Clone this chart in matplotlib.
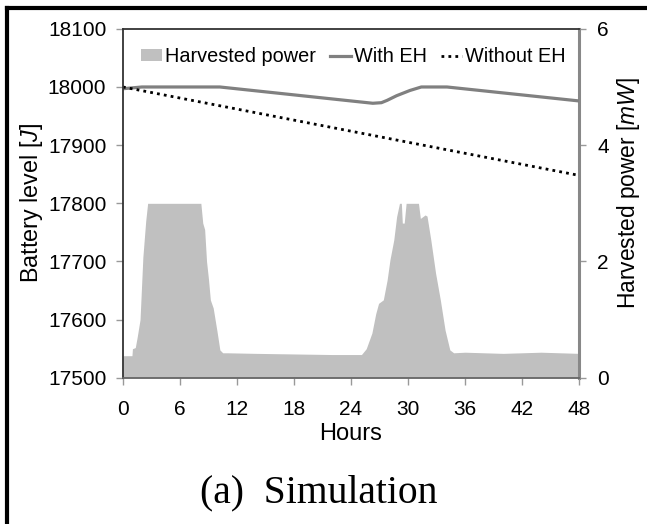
import matplotlib
matplotlib.use("Agg")
import matplotlib.pyplot as plt
from matplotlib.patches import Patch
from matplotlib.lines import Line2D

plt.rcParams['font.family'] = ['Liberation Sans', 'DejaVu Sans']
plt.rcParams['mathtext.fontset'] = 'custom'
plt.rcParams['mathtext.rm'] = 'Liberation Sans'
plt.rcParams['mathtext.it'] = 'Liberation Sans:italic'

# Harvested power (mW)
hours_p = [0, 0.95, 1.0, 1.3, 1.5, 1.8, 2.1, 2.4, 2.6, 8.2, 8.4, 8.6, 8.8, 9.0, 9.2, 9.5, 9.9, 10.2, 10.5,
           11, 14, 18, 22, 25.1, 25.6, 26.2, 26.6, 26.9, 27.4, 27.8, 28.1, 28.5, 28.8, 29.1, 29.3, 29.4,
           29.6, 29.8, 31.1, 31.3, 31.8, 32.0, 32.4, 32.9, 33.4, 33.9, 34.4, 34.8, 36, 40, 44, 48]
power = [0.38, 0.38, 0.5, 0.52, 0.7, 1.0, 2.08, 2.7, 3.0, 3.0, 2.66, 2.55, 2.0, 1.7, 1.34, 1.2, 0.8, 0.48, 0.43,
         0.43, 0.42, 0.41, 0.40, 0.40, 0.5, 0.77, 1.1, 1.28, 1.34, 1.68, 2.03, 2.37, 2.77, 3.0, 3.0, 2.66,
         2.66, 3.0, 3.0, 2.74, 2.8, 2.78, 2.37, 1.8, 1.34, 0.82, 0.48, 0.43, 0.44, 0.42, 0.44, 0.42]

# Battery level with energy harvesting (J)
hours_eh = [0, 2, 10.2, 26.3, 27.2, 27.8, 28.8, 30.2, 31.4, 34.1, 48]
battery_eh = [17997, 18000, 18000, 17972, 17973, 17977, 17985, 17994, 18000, 18000, 17976]

# Battery level without energy harvesting (J)
hours_noeh = [0, 48]
battery_noeh = [18000, 17848]

xticks = [0, 6, 12, 18, 24, 30, 36, 42, 48]
yticks_left = [17500, 17600, 17700, 17800, 17900, 18000, 18100]
yticks_right = [0, 2, 4, 6]

fig = plt.figure(figsize=(6.47, 5.24), dpi=100)
ax = fig.add_axes([0.190, 0.279, 0.705, 0.666])
ax2 = ax.twinx()

ax2.fill_between(hours_p, power, 0, color='#c0c0c0', linewidth=0, zorder=1)
ax2.set_ylim(0, 6)
ax2.set_yticks(yticks_right)

ax.set_zorder(ax2.get_zorder() + 1)
ax.patch.set_visible(False)

dot_style = (0, (1, 1.5))
ax.plot(hours_eh, battery_eh, color='#808080', lw=2.3, solid_capstyle='butt')
ax.plot(hours_noeh, battery_noeh, color='black', lw=2.0, linestyle=dot_style)

ax.set_xlim(0, 48)
ax.set_ylim(17500, 18100)
ax.set_xticks(xticks)
ax.set_yticks(yticks_left)

for a in (ax, ax2):
    a.tick_params(labelsize=15, direction='out', length=5, width=1, color='#999999')
ax.tick_params(axis='x', pad=11)
ax.tick_params(axis='y', pad=7)
ax2.tick_params(axis='y', pad=8)

for s in ('top', 'left'):
    ax.spines[s].set_color('#333333'); ax.spines[s].set_linewidth(1.3)
ax.spines['bottom'].set_color('#666666'); ax.spines['bottom'].set_linewidth(1.3)
ax.spines['right'].set_visible(False)
for s in ('top', 'left', 'bottom'):
    ax2.spines[s].set_visible(False)
ax2.spines['right'].set_color('#888888'); ax2.spines['right'].set_linewidth(2.2)

ax.set_xlabel('Hours', fontsize=17, labelpad=3)
ax.set_ylabel('Battery level [$\\mathit{J}$]', fontsize=16.8)
ax.yaxis.set_label_coords(-0.17, 0.5)
ax2.set_ylabel('Harvested power [$\\mathit{mW}$]', fontsize=16.4)
ax2.yaxis.set_label_coords(1.079, 0.53)

handles = [Patch(facecolor='#c0c0c0', edgecolor='none'),
           Line2D([], [], color='#808080', lw=2.3),
           Line2D([], [], color='black', lw=2.0, linestyle=dot_style)]
labels = ['Harvested power', 'With EH', 'Without EH']
ax.legend(handles, labels, loc='upper center', bbox_to_anchor=(0.505, 0.982), ncol=3, frameon=False,
          fontsize=14.3, handlelength=1.05, handleheight=0.5, handletextpad=0.15, columnspacing=0.7,
          borderaxespad=0.2)

fig.text(0.492, 0.059, '(a)  Simulation', family=['Liberation Serif', 'DejaVu Serif'], fontsize=28.5,
         ha='center', va='center')

# outer frame lines (top and left)
fig.add_artist(Line2D([7/647, 1], [1 - 8/524, 1 - 8/524], color='black', lw=3, transform=fig.transFigure))
fig.add_artist(Line2D([7/647, 7/647], [0, 1 - 8/524], color='black', lw=3, transform=fig.transFigure))

fig.savefig('out.png', dpi=100)
